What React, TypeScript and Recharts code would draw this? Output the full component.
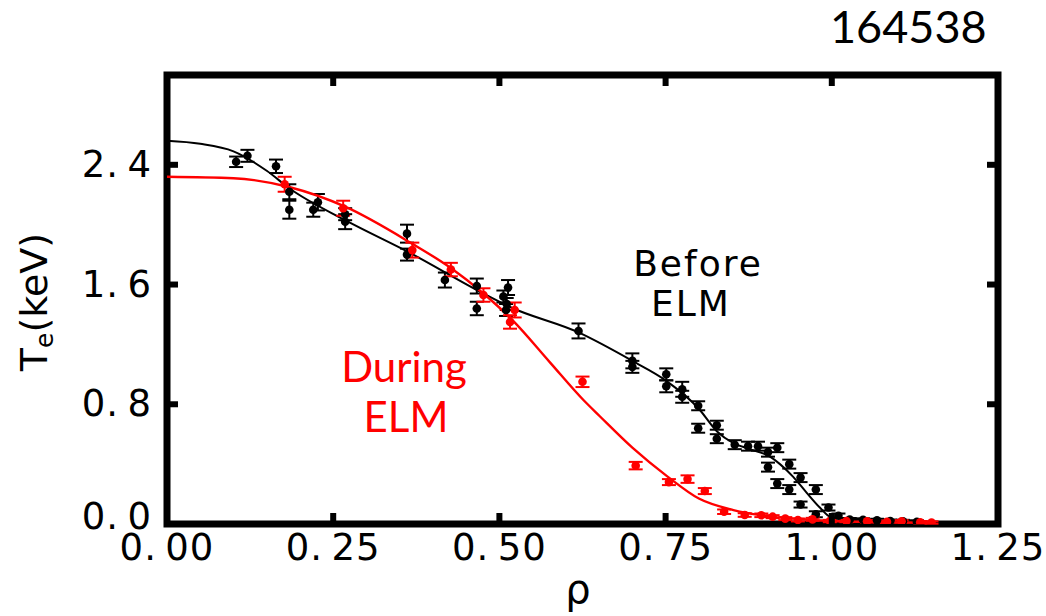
import { ComposedChart, XAxis, YAxis, Line, Scatter, ErrorBar, ReferenceArea } from 'recharts';

// axis ticks
const xTicks = [0, 0.25, 0.5, 0.75, 1.0, 1.25];
const yTicks = [0, 0.8, 1.6, 2.4];

// Before ELM measurements (black)
const beforeRho = [
  0.104, 0.121, 0.164, 0.184, 0.184, 0.22, 0.227, 0.268, 0.268, 0.361, 0.361, 0.418, 0.466, 0.466,
  0.513, 0.506, 0.511, 0.51, 0.619, 0.7, 0.7, 0.751, 0.751, 0.775, 0.775, 0.799, 0.799, 0.827, 0.827,
  0.854, 0.874, 0.889, 0.904, 0.918, 0.904, 0.918, 0.936, 0.936, 0.953, 0.953, 0.976, 0.976, 0.995,
  1.01, 1.027, 1.047, 1.068, 1.088, 1.107, 1.128,
];
const beforeTe = [
  2.42, 2.46, 2.39, 2.22, 2.1, 2.1, 2.15, 2.07, 2.02, 1.94, 1.8, 1.63, 1.59, 1.44,
  1.58, 1.52, 1.47, 1.43, 1.29, 1.09, 1.05, 1.0, 0.92, 0.9, 0.85, 0.79, 0.64, 0.66, 0.57,
  0.53, 0.52, 0.52, 0.48, 0.51, 0.38, 0.27, 0.4, 0.23, 0.31, 0.13, 0.23, 0.065, 0.11,
  0.055, 0.03, 0.028, 0.025, 0.02, 0.018, 0.015,
];
const beforeErr = [
  0.035, 0.04, 0.045, 0.05, 0.06, 0.047, 0.055, 0.04, 0.05, 0.06, 0.04, 0.05, 0.05, 0.045,
  0.05, 0.04, 0.04, 0.04, 0.05, 0.05, 0.04, 0.04, 0.04, 0.05, 0.04, 0.03, 0.03, 0.03, 0.03,
  0.03, 0.03, 0.03, 0.03, 0.03, 0.03, 0.03, 0.03, 0.03, 0.03, 0.02, 0.03, 0.02, 0.02,
  0.015, 0.01, 0.01, 0.01, 0.01, 0.01, 0.01,
];

// During ELM measurements (red)
const duringRho = [
  0.177, 0.265, 0.369, 0.427, 0.476, 0.523, 0.516, 0.625, 0.705, 0.755, 0.783, 0.809, 0.838, 0.869,
  0.894, 0.911, 0.93, 0.949, 0.971, 0.997, 1.022, 1.053, 1.083, 1.105, 1.133, 1.15,
];
const duringTe = [
  2.27, 2.11, 1.83, 1.7, 1.53, 1.43, 1.35, 0.95, 0.39, 0.28, 0.3, 0.22, 0.082, 0.06,
  0.058, 0.049, 0.036, 0.027, 0.031, 0.02, 0.02, 0.018, 0.015, 0.018, 0.012, 0.01,
];
const duringErr = [
  0.05, 0.05, 0.05, 0.045, 0.045, 0.05, 0.045, 0.035, 0.025, 0.02, 0.025, 0.02, 0.015, 0.012,
  0.012, 0.01, 0.01, 0.01, 0.01, 0.008, 0.008, 0.008, 0.008, 0.008, 0.008, 0.008,
];

// fitted profiles
const beforeFitRho = [
  0, 0.05, 0.1, 0.15, 0.185, 0.268, 0.366, 0.476, 0.516, 0.619, 0.7, 0.75, 0.8, 0.827, 0.852,
  0.877, 0.907, 0.922, 0.942, 0.962, 0.982, 0.997, 1.02, 1.05, 1.1, 1.15,
];
const beforeFitTe = [
  2.56, 2.54, 2.49, 2.36, 2.24, 2.03, 1.81, 1.54, 1.45, 1.28, 1.09, 0.96, 0.77, 0.62, 0.54,
  0.5, 0.45, 0.4, 0.315, 0.21, 0.11, 0.05, 0.035, 0.028, 0.02, 0.012,
];
const duringFitRho = [
  0, 0.1, 0.185, 0.268, 0.366, 0.427, 0.476, 0.52, 0.576, 0.626, 0.651, 0.7, 0.752, 0.8, 0.852,
  0.902, 0.952, 1.0, 1.05, 1.1, 1.15,
];
const duringFitTe = [
  2.32, 2.31, 2.25, 2.12, 1.88, 1.71, 1.54, 1.36, 1.08, 0.83, 0.72, 0.51, 0.32, 0.17, 0.093,
  0.053, 0.033, 0.02, 0.014, 0.01, 0.008,
];

const toPoints = (rho: number[], te: number[], err?: number[]) =>
  rho.map((x, i) => ({ x, y: te[i], err: err ? err[i] : 0 }));

const beforePts = toPoints(beforeRho, beforeTe, beforeErr);
const duringPts = toPoints(duringRho, duringTe, duringErr);
const beforeFit = toPoints(beforeFitRho, beforeFitTe);
const duringFit = toPoints(duringFitRho, duringFitTe);

const labelFont = 'DejaVu Sans';
// tick labels have a small gap after the decimal point
const fmt = (v: number, d: number) => v.toFixed(d).replace('.', '.\u2009');

const BottomTick = ({ x, y, payload }: any) => (
  <g>
    <line x1={x} y1={y} x2={x} y2={y - 11} stroke="#000" strokeWidth={6} />
    <text x={x} y={y + 36} textAnchor="middle" fontFamily={labelFont} fontSize={37} letterSpacing={1} fill="#000">
      {fmt(payload.value, 2)}
    </text>
  </g>
);

const TopTick = ({ x, y }: any) => (
  <line x1={x} y1={y} x2={x} y2={y + 11} stroke="#000" strokeWidth={6} />
);

const LeftTick = ({ x, y, payload }: any) => (
  <g>
    <line x1={x} y1={y} x2={x + 11} y2={y} stroke="#000" strokeWidth={6} />
    <text
      x={x - 15}
      y={payload.value === 0 ? y + 5 : y + 12}
      textAnchor="end"
      fontFamily={labelFont}
      fontSize={37}
      letterSpacing={1}
      fill="#000"
    >
      {fmt(payload.value, 1)}
    </text>
  </g>
);

const RightTick = ({ x, y }: any) => (
  <line x1={x} y1={y} x2={x - 11} y2={y} stroke="#000" strokeWidth={6} />
);

const dot = (color: string) => (p: any) => <circle cx={p.cx} cy={p.cy} r={4.3} fill={color} />;

export default function App() {
  return (
    <div style={{ position: 'absolute', left: 0, top: 0, width: 1046, height: 616, background: '#fff' }}>
      <ComposedChart width={1046} height={616} margin={{ top: 0, right: 0, bottom: 0, left: 0 }}>
        <XAxis
          xAxisId="b"
          dataKey="x"
          type="number"
          domain={[0, 1.25]}
          ticks={xTicks}
          interval={0}
          allowDataOverflow
          height={92}
          tickSize={0}
          tickMargin={0}
          axisLine={false}
          tickLine={false}
          tick={(p: any) => <BottomTick {...p} />}
        />
        <XAxis
          xAxisId="t"
          orientation="top"
          dataKey="x"
          type="number"
          domain={[0, 1.25]}
          ticks={xTicks}
          interval={0}
          allowDataOverflow
          height={75}
          tickSize={0}
          tickMargin={0}
          axisLine={false}
          tickLine={false}
          tick={(p: any) => <TopTick {...p} />}
        />
        <YAxis
          yAxisId="l"
          type="number"
          domain={[0, 3]}
          ticks={yTicks}
          interval={0}
          allowDataOverflow
          width={167}
          tickSize={0}
          tickMargin={0}
          axisLine={false}
          tickLine={false}
          tick={(p: any) => <LeftTick {...p} />}
        />
        <YAxis
          yAxisId="r"
          orientation="right"
          type="number"
          domain={[0, 3]}
          ticks={yTicks}
          interval={0}
          allowDataOverflow
          width={48}
          tickSize={0}
          tickMargin={0}
          axisLine={false}
          tickLine={false}
          tick={(p: any) => <RightTick {...p} />}
        />

        <Line
          xAxisId="b"
          yAxisId="l"
          data={beforeFit}
          dataKey="y"
          type="monotone"
          stroke="#000"
          strokeWidth={2}
          dot={false}
          isAnimationActive={false}
        />
        <Scatter
          xAxisId="b"
          yAxisId="l"
          data={beforePts}
          dataKey="y"
          fill="#000"
          shape={dot('#000')}
          isAnimationActive={false}
        >
          <ErrorBar dataKey="err" direction="y" width={7} stroke="#000" strokeWidth={2} isAnimationActive={false} />
        </Scatter>

        <Line
          xAxisId="t"
          yAxisId="r"
          data={duringFit}
          dataKey="y"
          type="monotone"
          stroke="#ff0000"
          strokeWidth={2.4}
          dot={false}
          isAnimationActive={false}
        />
        <Scatter
          xAxisId="b"
          yAxisId="l"
          data={duringPts}
          dataKey="y"
          fill="#ff0000"
          shape={dot('#ff0000')}
          isAnimationActive={false}
        >
          <ErrorBar dataKey="err" direction="y" width={7} stroke="#ff0000" strokeWidth={2} isAnimationActive={false} />
        </Scatter>

        {/* frame */}
        <ReferenceArea
          xAxisId="b"
          yAxisId="l"
          x1={0}
          x2={1.25}
          y1={0}
          y2={3}
          fill="none"
          fillOpacity={0}
          stroke="#000"
          strokeWidth={7}
          ifOverflow="visible"
        />
      </ComposedChart>

      {/* annotations */}
      <svg width={1046} height={616} style={{ position: 'absolute', left: 0, top: 0, pointerEvents: 'none' }}>
        <text x={830} y={43} fontFamily="Lato" fontSize={45} fill="#000">
          164538
        </text>
        <text x={698} y={276} textAnchor="middle" fontFamily={labelFont} fontSize={36} letterSpacing={2} fill="#000">
          Before
        </text>
        <text x={691} y={316} textAnchor="middle" fontFamily={labelFont} fontSize={36} letterSpacing={2} fill="#000">
          ELM
        </text>
        <text x={404} y={382} textAnchor="middle" fontFamily="Lato" fontSize={42} fill="#ff0000">
          During
        </text>
        <text x={406} y={432} textAnchor="middle" fontFamily="Lato" fontSize={42} fill="#ff0000">
          ELM
        </text>
        <text x={578} y={603} textAnchor="middle" fontFamily={labelFont} fontSize={40} fill="#000">
          ρ
        </text>
        <text
          x={47}
          y={302}
          textAnchor="middle"
          fontFamily={labelFont}
          fontSize={38}
          fill="#000"
          transform="rotate(-90 47 302)"
        >
          T<tspan fontSize={25} dy={6}>e</tspan>
          <tspan dy={-6}>(keV)</tspan>
        </text>
      </svg>
    </div>
  );
}
